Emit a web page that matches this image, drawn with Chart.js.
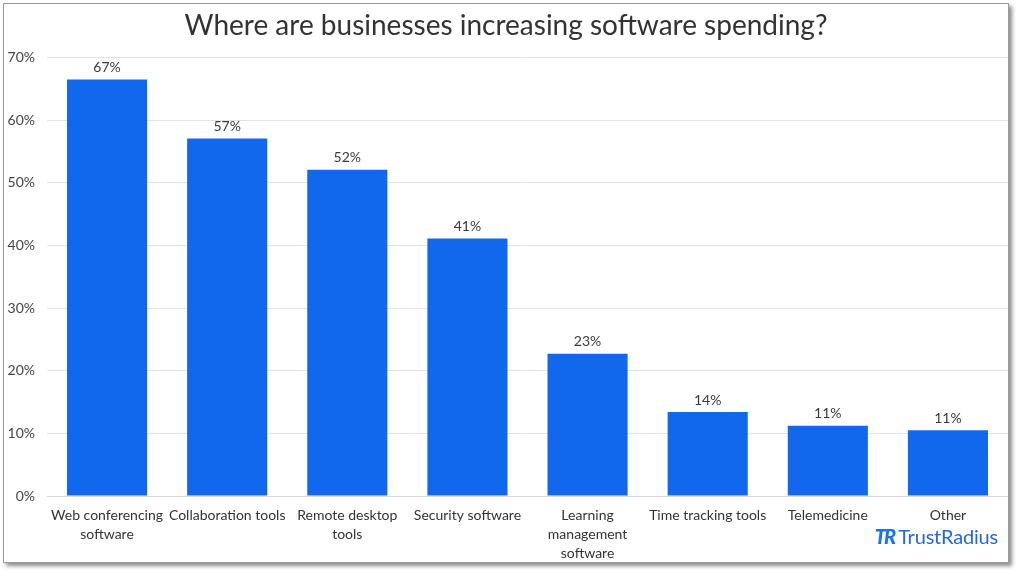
<!DOCTYPE html>
<html>
<head>
<meta charset="utf-8">
<script src="https://cdn.jsdelivr.net/npm/chart.js@4/dist/chart.umd.min.js"></script>
<style>
  html, body { margin: 0; padding: 0; background: #fff; }
  #frame {
    position: absolute; left: 3px; top: 3px; width: 1006px; height: 560px;
    border: 1px solid #9a9a9a; box-shadow: 3px 3px 4px rgba(0,0,0,0.45);
    background: #fff; box-sizing: border-box;
  }
  #wrap { position: absolute; left: 0; top: 0; width: 1004px; height: 558px; }
  #logo {
    position: absolute; right: 10px; bottom: 14px; font-family: Lato, "Noto Sans", sans-serif;
    font-size: 20px; color: #2468dc; letter-spacing: -0.2px;
  }
  #logo b { font-style: italic; font-weight: 900; margin-right: 4px; letter-spacing: -2px; color: #1a73e8; }
</style>
</head>
<body>
<div id="frame">
  <div id="wrap"><canvas id="canvas"></canvas></div>
  <div id="logo"><b>TR</b>TrustRadius</div>
</div>
<script>
  // categories + values
  var categories = [
    ['Web conferencing', 'software'],
    'Collaboration tools',
    ['Remote desktop', 'tools'],
    'Security software',
    ['Learning', 'management', 'software'],
    'Time tracking tools',
    'Telemedicine',
    'Other'
  ];
  var values = [66.5, 57.1, 52.1, 41.1, 22.7, 13.4, 11.2, 10.5];
  var valueLabels = ['67%', '57%', '52%', '41%', '23%', '14%', '11%', '11%'];
  var yTicks = [0, 10, 20, 30, 40, 50, 60, 70];

  const FONT = 'Lato, "Noto Sans", sans-serif';

  // draw the % text above each bar
  const barLabels = {
    id: 'barLabels',
    afterDatasetsDraw(chart) {
      const c = chart.ctx;
      const meta = chart.getDatasetMeta(0);
      c.save();
      c.font = '14px ' + FONT;
      c.fillStyle = '#3a3a3a';
      c.textAlign = 'center';
      c.textBaseline = 'bottom';
      meta.data.forEach(function(bar, i) {
        c.fillText(valueLabels[i], bar.x, bar.y - 5);
      });
      c.restore();
    }
  };

  const ctx = document.getElementById('canvas').getContext('2d');
  const chart = new Chart(ctx, {
    type: 'bar',
    data: {
      labels: categories,
      datasets: [{
        data: values,
        backgroundColor: '#1268ec',
        categoryPercentage: 1,
        barPercentage: 0.667
      }]
    },
    options: {
      responsive: true,
      maintainAspectRatio: false,
      animation: false,
      layout: { padding: { left: 0, right: 0, top: 0, bottom: 0 } },
      plugins: {
        legend: { display: false },
        tooltip: { enabled: false },
        title: {
          display: true,
          text: 'Where are businesses increasing software spending?',
          color: '#333',
          font: { family: FONT, size: 28, weight: 'normal' },
          padding: { top: 5, bottom: 15 }
        }
      },
      scales: {
        y: {
          min: 0, max: 70,
          afterBuildTicks(axis) { axis.ticks = yTicks.map(function(v) { return {value: v}; }); },
          afterFit(axis) { axis.width = 43; },
          ticks: {
            color: '#444',
            font: { family: FONT, size: 14 },
            padding: 12,
            callback: function(v) { return v + '%'; }
          },
          grid: { color: '#e3e3e3', drawTicks: false },
          border: { display: false }
        },
        x: {
          afterFit(axis) { axis.height = 66; },
          ticks: {
            color: '#333',
            font: { family: FONT, size: 14, lineHeight: 1.35 },
            maxRotation: 0, autoSkip: false, padding: 10
          },
          grid: { display: false, drawTicks: false },
          border: { color: '#d6d6d6', width: 1 }
        }
      }
    },
    plugins: [barLabels]
  });
</script>
</body>
</html>
